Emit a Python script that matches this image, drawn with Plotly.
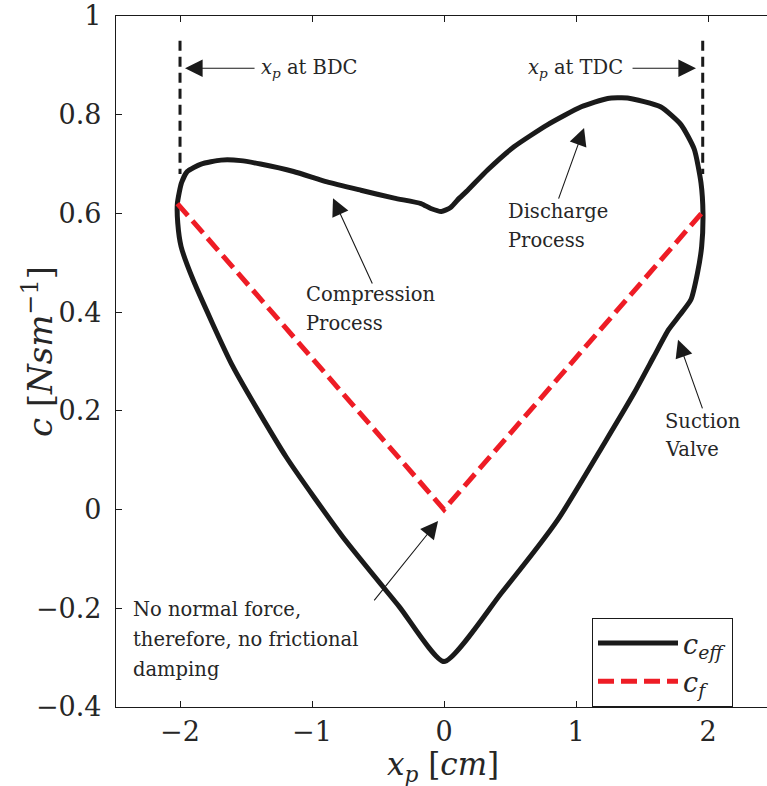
import plotly.graph_objects as go

# c_eff loop (x_p [cm], c [N s/m]), traversed clockwise from BDC
ceff_x = [-2.02, -1.99, -1.945, -1.84, -1.69, -1.54, -1.39, -1.14, -0.886, -0.63, -0.377, -0.174,
          -0.1, -0.02, 0.05, 0.116, 0.18, 0.33, 0.53, 0.78, 1.04, 1.24, 1.39, 1.64, 1.795, 1.896,
          1.947, 1.962, 1.952, 1.92, 1.87, 1.78, 1.70, 1.59, 1.44, 1.214, 0.861, 0.432,
          0.0, -0.338, -0.768, -1.197, -1.60, -1.90, -1.992, -2.017, -2.02]
ceff_y = [0.62, 0.661, 0.685, 0.70, 0.708, 0.707, 0.70, 0.685, 0.664, 0.647, 0.631, 0.62,
          0.61, 0.604, 0.612, 0.631, 0.647, 0.688, 0.735, 0.779, 0.816, 0.833, 0.834, 0.816, 0.78, 0.73,
          0.662, 0.60, 0.533, 0.479, 0.425, 0.392, 0.364, 0.31, 0.236, 0.134, -0.021, -0.170,
          -0.308, -0.197, -0.055, 0.107, 0.29, 0.465, 0.533, 0.58, 0.62]

# c_f
cf_x = [-2.02, 0.0, 1.95]
cf_y = [0.62, 0.0, 0.60]

# BDC / TDC markers
bdc_x = [-2.0, -2.0]
tdc_x = [1.96, 1.96]
dc_y = [0.95, 0.68]

x_ticks = [-2, -1, 0, 1, 2]
x_ticktext = ["\u22122", "\u22121", "0", "1", "2"]
y_ticks = [-0.4, -0.2, 0, 0.2, 0.4, 0.6, 0.8, 1.0]
y_ticktext = ["\u22120.4", "\u22120.2", "0", "0.2", "0.4", "0.6", "0.8", "1"]

SERIF = "DejaVu Serif"
TXT = "#262626"

fig = go.Figure()
fig.add_trace(go.Scatter(x=bdc_x, y=dc_y, mode="lines", showlegend=False,
                         line=dict(color="#1a1a1a", width=3, dash="10px,6px")))
fig.add_trace(go.Scatter(x=tdc_x, y=dc_y, mode="lines", showlegend=False,
                         line=dict(color="#1a1a1a", width=3, dash="10px,6px")))
fig.add_trace(go.Scatter(x=ceff_x, y=ceff_y, mode="lines",
                         name="<i>c</i><sub><i>eff</i></sub>",
                         line=dict(color="#1a1a1a", width=5, shape="spline", smoothing=0.55)))
fig.add_trace(go.Scatter(x=cf_x, y=cf_y, mode="lines", name="<i>c</i><sub><i>f</i></sub>",
                         line=dict(color="#ee1c25", width=5, dash="16px,7px")))

ann = []
def txt(x, y, s, xanchor="left"):
    ann.append(dict(x=x, y=y, xref="x", yref="y", text=s, showarrow=False, xanchor=xanchor,
                    yanchor="middle", align="left", font=dict(family=SERIF, size=19.5, color=TXT)))

def arrow(x0, y0, x1, y1):
    ann.append(dict(x=x1, y=y1, ax=x0, ay=y0, xref="x", yref="y", axref="x", ayref="y",
                    text="", showarrow=True, arrowhead=2, arrowsize=3.2, arrowwidth=1.1,
                    arrowcolor="#1a1a1a", standoff=0))

xp = "<i>x</i><sub><i>p</i></sub>"
txt(-1.40, 0.894, xp + " at BDC")
arrow(-1.424, 0.894, -1.962, 0.894)
txt(1.371, 0.894, xp + " at TDC", xanchor="right")
arrow(1.417, 0.894, 1.909, 0.894)
txt(-1.06, 0.435, "Compression")
txt(-1.06, 0.378, "Process")
arrow(-0.538, 0.455, -0.841, 0.631)
txt(0.47, 0.603, "Discharge")
txt(0.47, 0.546, "Process")
arrow(0.864, 0.627, 1.061, 0.773)
txt(1.659, 0.1775, "Suction")
txt(1.659, 0.121, "Valve")
arrow(1.962, 0.202, 1.773, 0.344)
txt(-2.371, -0.203, "No normal force,")
txt(-2.371, -0.264, "therefore, no frictional")
txt(-2.371, -0.325, "damping")
arrow(-0.538, -0.187, -0.045, -0.023)

# axis titles
ann.append(dict(x=(443 - 116) / 651, y=-(766 - 707) / 691, xref="paper", yref="paper",
                text="<i>x</i><sub><i>p</i></sub> [<i>cm</i>]", showarrow=False,
                xanchor="center", yanchor="middle", font=dict(family=SERIF, size=31, color=TXT)))
ann.append(dict(x=-(116 - 38) / 651, y=(707 - 352) / 691, xref="paper", yref="paper",
                text="<i>c</i> [<i>Nsm</i><sup>\u22121</sup>]", showarrow=False, textangle=-90,
                xanchor="center", yanchor="middle", font=dict(family=SERIF, size=34, color=TXT)))

fig.update_layout(
    width=767, height=786,
    margin=dict(l=116, r=0, t=16, b=79),
    paper_bgcolor="white", plot_bgcolor="white",
    annotations=ann,
    showlegend=True,
    legend=dict(x=(592 - 116) / 651, y=(707 - 618) / 691, xanchor="left", yanchor="top",
                bgcolor="white", bordercolor="#1a1a1a", borderwidth=1,
                font=dict(family=SERIF, size=27, color=TXT), itemwidth=80,
                tracegroupgap=0),
    xaxis=dict(range=[-2.485, 2.447], tickvals=x_ticks, ticktext=x_ticktext,
               ticks="inside", ticklen=6, tickcolor="#1a1a1a", showline=True, linecolor="#1a1a1a",
               linewidth=1.3, mirror="ticks", showgrid=False, zeroline=False,
               tickfont=dict(family=SERIF, size=27, color=TXT), ticklabeloverflow="allow"),
    yaxis=dict(range=[-0.4, 1.0], tickvals=y_ticks, ticktext=y_ticktext,
               ticks="inside", ticklen=6, tickcolor="#1a1a1a", showline=True, linecolor="#1a1a1a",
               linewidth=1.3, mirror=False, showgrid=False, zeroline=False,
               tickfont=dict(family=SERIF, size=27, color=TXT), ticklabelstandoff=8,
               ticklabeloverflow="allow"),
    yaxis2=dict(range=[-0.4, 1.0], overlaying="y", side="right", tickvals=y_ticks,
                ticks="inside", ticklen=6, tickcolor="#1a1a1a", showticklabels=False,
                showline=False, showgrid=False, zeroline=False),
)
fig.write_html("out.html")
